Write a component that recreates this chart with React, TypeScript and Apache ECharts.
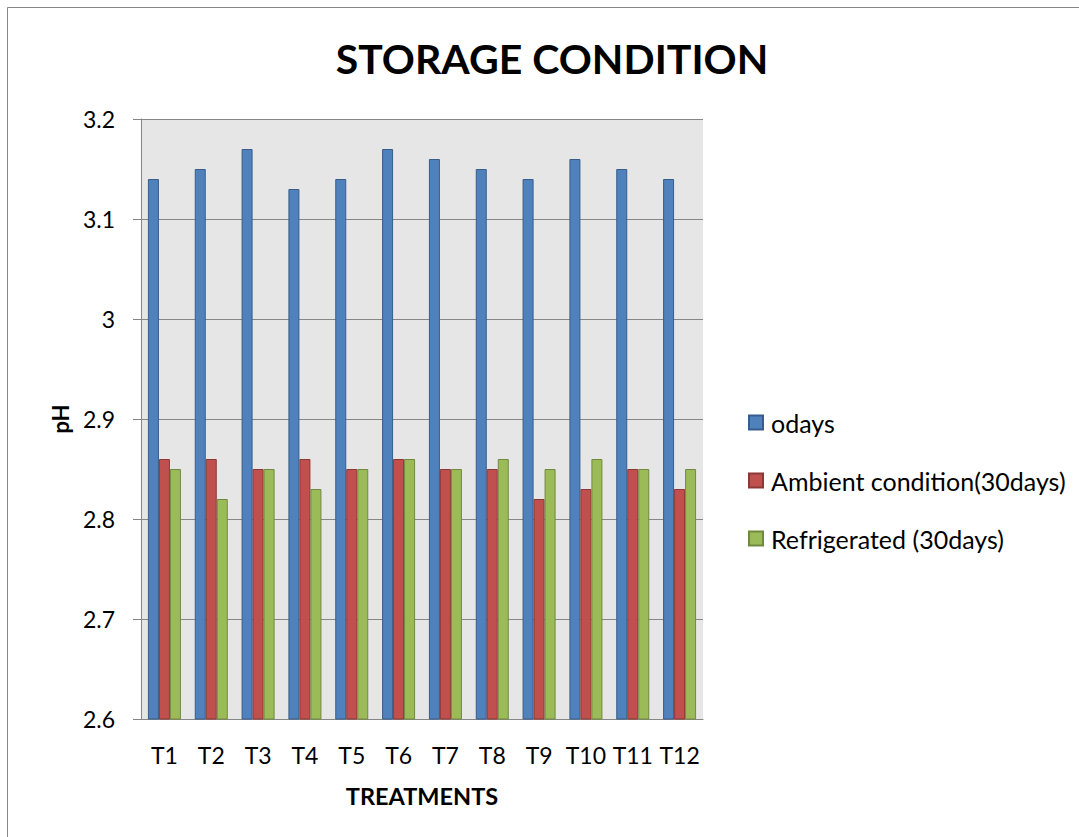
import React, { useEffect, useRef } from "react";
import * as echarts from "echarts";

const categories = ["T1", "T2", "T3", "T4", "T5", "T6", "T7", "T8", "T9", "T10", "T11", "T12"];
const odays = [3.14, 3.15, 3.17, 3.13, 3.14, 3.17, 3.16, 3.15, 3.14, 3.16, 3.15, 3.14];
const ambient = [2.86, 2.86, 2.85, 2.86, 2.85, 2.86, 2.85, 2.85, 2.82, 2.83, 2.85, 2.83];
const refrigerated = [2.85, 2.82, 2.85, 2.83, 2.85, 2.86, 2.85, 2.86, 2.85, 2.86, 2.85, 2.85];
const seriesNames = ["odays", "Ambient condition(30days)", "Refrigerated (30days)"];

const FONT = "Lato, 'Open Sans', 'DejaVu Sans', sans-serif";

export default function App() {
  const ref = useRef<HTMLDivElement>(null);
  useEffect(() => {
    if (!ref.current) return;
    const chart = echarts.init(ref.current, null, { renderer: "svg" });
    const mk = (name: string, data: number[], color: string, border: string) => ({
      name,
      type: "bar",
      data,
      barWidth: 11,
      barGap: "0%",
      itemStyle: { color, borderColor: border, borderWidth: 1 },
    });
    chart.setOption({
      animation: false,
      backgroundColor: "#ffffff",
      textStyle: { fontFamily: FONT },
      title: {
        text: "STORAGE CONDITION",
        left: 547,
        top: 33,
        textAlign: "center",
        textStyle: { fontSize: 41, fontWeight: "bold", color: "#000", fontFamily: FONT },
      },
      graphic: [
        {
          type: "rect",
          shape: { x: 7.5, y: 7.5, width: 1100, height: 900 },
          style: { fill: "none", stroke: "#868686", lineWidth: 1 },
          silent: true,
          z: -1,
        },
      ],
      legend: {
        orient: "vertical",
        left: 748,
        top: 410,
        padding: 0,
        itemWidth: 14,
        itemHeight: 14,
        itemGap: 33,
        icon: "rect",
        textStyle: { fontSize: 25, lineHeight: 24, color: "#000", fontFamily: FONT, padding: [0, 0, 0, 3] },
        data: seriesNames,
      },
      grid: { left: 141, top: 119, right: 376, bottom: 118, backgroundColor: "#e6e6e6", show: true, borderWidth: 0 },
      xAxis: {
        type: "category",
        data: categories,
        name: "TREATMENTS",
        nameLocation: "middle",
        nameGap: 65,
        nameTextStyle: { fontSize: 23.5, fontWeight: "bold", color: "#000", fontFamily: FONT },
        axisLine: { lineStyle: { color: "#868686" } },
        axisTick: { show: false },
        axisLabel: { fontSize: 23, color: "#000", margin: 24, fontFamily: FONT, interval: 0 },
      },
      yAxis: {
        type: "value",
        min: 2.6,
        max: 3.2,
        interval: 0.1,
        name: "pH",
        nameLocation: "middle",
        nameGap: 70,
        nameTextStyle: { fontSize: 22, fontWeight: "bold", color: "#000", fontFamily: FONT },
        axisLine: { show: true, lineStyle: { color: "#868686" } },
        axisTick: { show: true, length: 8, lineStyle: { color: "#868686" } },
        splitLine: { lineStyle: { color: "#868686" } },
        axisLabel: {
          fontSize: 23,
          color: "#000",
          margin: 26,
          fontFamily: FONT,
          formatter: (v: number) => String(Math.round(v * 10) / 10),
        },
      },
      series: [
        mk(seriesNames[0], odays, "#4f81bd", "#385d8a"),
        mk(seriesNames[1], ambient, "#c0504d", "#8c3836"),
        mk(seriesNames[2], refrigerated, "#9bbb59", "#71893f"),
      ],
    });
    return () => chart.dispose();
  }, []);
  return (
    <div
      ref={ref}
      style={{ position: "fixed", left: 0, top: 0, width: 1079, height: 837 }}
    />
  );
}
